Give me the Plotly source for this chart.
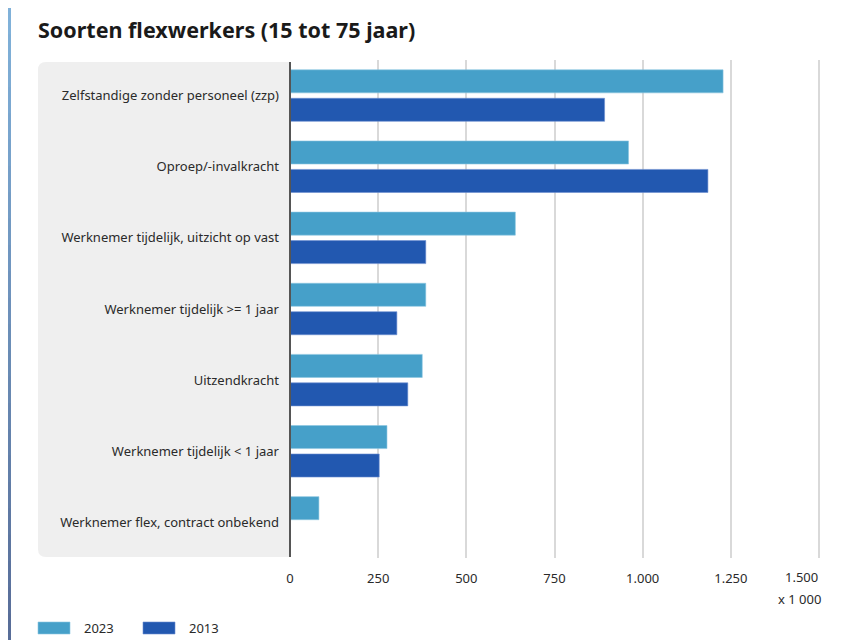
import plotly.graph_objects as go

categories = [
    "Zelfstandige zonder personeel (zzp)",
    "Oproep/-invalkracht",
    "Werknemer tijdelijk, uitzicht op vast",
    "Werknemer tijdelijk >= 1 jaar",
    "Uitzendkracht",
    "Werknemer tijdelijk < 1 jaar",
    "Werknemer flex, contract onbekend",
]
series_names = ["2023", "2013"]
values_2023 = [1228, 960, 639, 385, 375, 275, 82]
values_2013 = [892, 1185, 385, 303, 334, 253, None]
tick_values = [0, 250, 500, 750, 1000, 1250, 1500]
tick_labels = ["0", "250", "500", "750", "1.000", "1.250", "1.500"]
unit_label = "x 1 000"

colors = ["#46a0c9", "#2258b0"]
TXT = "#2a2a2a"

# page offset of the figure inside the html body (default body margin)
OFF = 8
W, H = 846 - OFF, 640 - OFF
X0PX, X1500PX = 290, 819          # pixel of value 0 and of value 1500
L, R, T, B = 290, 823, 60, 558    # plot area in page pixels
XMAX = 1500 * (R - L) / (X1500PX - X0PX)


def px(x):
    return (x - L) / (R - L)


def py(y):
    return (B - y) / (B - T)


FONT = "Noto Sans"

fig = go.Figure()
fig.add_trace(go.Bar(y=categories, x=values_2023, name=series_names[0], orientation="h",
                     marker=dict(color=colors[0], line=dict(color="#8cc6e0", width=0.6)),
                     showlegend=False))
fig.add_trace(go.Bar(y=categories, x=values_2013, name=series_names[1], orientation="h",
                     marker=dict(color=colors[1], line=dict(color="#6b8fd0", width=0.6)),
                     showlegend=False))

shapes = []
# blue frame on the left
n = 24
c0 = (0x80, 0xb1, 0xd9)
c1 = (0x58, 0x6d, 0x98)
for i in range(n):
    t = i / (n - 1)
    c = tuple(int(round(c0[k] + (c1[k] - c0[k]) * t)) for k in range(3))
    y0 = OFF + i * H / n
    y1 = OFF + (i + 1) * H / n + 1
    shapes.append(dict(type="rect", xref="paper", yref="paper", x0=px(OFF), x1=px(11),
                       y0=py(y1), y1=py(y0), fillcolor="rgb(%d,%d,%d)" % c, line=dict(width=0),
                       layer="below"))
# grey label panel with rounded left corners
r = 8
x0, x1, yt, yb = px(38), px(290), py(62), py(557)
rx = r / (R - L)
ry = r / (B - T)
path = (f"M {x1},{yt} L {x0+rx},{yt} Q {x0},{yt} {x0},{yt-ry} L {x0},{yb+ry} "
        f"Q {x0},{yb} {x0+rx},{yb} L {x1},{yb} Z")
shapes.append(dict(type="path", xref="paper", yref="paper", path=path,
                   fillcolor="#efefef", line=dict(width=0), layer="below"))
# axis line
shapes.append(dict(type="line", xref="paper", yref="paper", x0=0, x1=0, y0=py(557), y1=py(62),
                   line=dict(color="#555555", width=2)))

annotations = []
# last tick label kept inside the chart (right aligned on its gridline)
annotations.append(dict(text=tick_labels[-1], xref="x", yref="paper", x=tick_values[-1],
                        y=py(577), xanchor="right", yanchor="middle", showarrow=False,
                        xshift=1, font=dict(size=13, color=TXT)))
annotations.append(dict(text=unit_label, xref="paper", yref="paper", x=px(823), y=py(599),
                        xanchor="right", yanchor="middle", showarrow=False,
                        font=dict(size=13, color=TXT)))

# legend
leg_x = [38, 143]
for i, name in enumerate(series_names):
    shapes.append(dict(type="rect", xref="paper", yref="paper", x0=px(leg_x[i]), x1=px(leg_x[i] + 32),
                       y0=py(634), y1=py(622), fillcolor=colors[i],
                       line=dict(color="#8cc6e0" if i == 0 else "#6b8fd0", width=0.6)))
    annotations.append(dict(text=name, xref="paper", yref="paper", x=px(leg_x[i] + 44), y=py(628),
                            xanchor="left", yanchor="middle", showarrow=False,
                            font=dict(size=13, color=TXT)))

fig.update_layout(
    width=W, height=H,
    margin=dict(l=L - OFF, r=846 - R, t=T - OFF, b=640 - B, pad=0),
    paper_bgcolor="white", plot_bgcolor="white",
    barmode="group", bargap=0.2, bargroupgap=0.19,
    font=dict(family=FONT, size=13, color=TXT),
    title=dict(text="<b>Soorten flexwerkers (15 tot 75 jaar)</b>", xref="container", yref="container",
               x=(38 - OFF) / W, y=1 - (30 - OFF) / H, xanchor="left", yanchor="middle",
               font=dict(family=FONT, size=21.5, color="#1a1a1a")),
    xaxis=dict(range=[0, XMAX], tickvals=tick_values, ticktext=tick_labels[:-1] + [""],
               showgrid=True, gridcolor="#d9d9d9", gridwidth=1.5, zeroline=False,
               showline=False, ticks="", ticklabelstandoff=11,
               tickfont=dict(size=13, color=TXT), fixedrange=True),
    yaxis=dict(autorange="reversed", showgrid=False, zeroline=False, showline=False,
               ticks="", ticklabelstandoff=10, tickfont=dict(size=13, color=TXT)),
    showlegend=False,
    shapes=shapes,
    annotations=annotations,
)

fig.write_html("out.html")
